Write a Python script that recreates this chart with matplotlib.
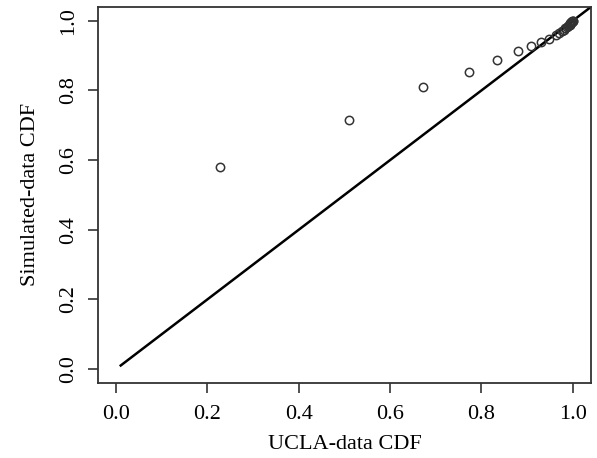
import matplotlib
matplotlib.use("Agg")
import matplotlib.pyplot as plt

# CDF values (UCLA vs simulated)
ucla_cdf = [0.227, 0.510, 0.673, 0.773, 0.834, 0.880, 0.908, 0.930, 0.948,
            0.963, 0.970, 0.976, 0.980, 0.984, 0.987, 0.989, 0.991, 0.993,
            0.994, 0.995, 0.996, 0.997, 0.998, 0.999, 0.9995, 1.000]
sim_cdf = [0.581, 0.715, 0.810, 0.853, 0.888, 0.914, 0.929, 0.939, 0.948,
           0.960, 0.965, 0.970, 0.974, 0.978, 0.981, 0.984, 0.987, 0.989,
           0.991, 0.993, 0.995, 0.996, 0.997, 0.998, 0.999, 1.000]
ref_line = [0.01, 1.05]
ticks = [0.0, 0.2, 0.4, 0.6, 0.8, 1.0]
tick_labels = ["0.0", "0.2", "0.4", "0.6", "0.8", "1.0"]

plt.rcParams["font.family"] = ["Liberation Serif", "DejaVu Serif"]

fig = plt.figure(figsize=(5.97, 4.58), dpi=100)
ax = fig.add_axes([0.164, 0.164, 0.826, 0.821])

ax.plot(ref_line, ref_line, color="black", lw=1.8)
ax.plot(ucla_cdf, sim_cdf, "o", mfc="none", mec="#333333", ms=6, mew=1.1)

ax.set_xlim(-0.04, 1.04)
ax.set_ylim(-0.04, 1.04)
ax.set_xticks(ticks)
ax.set_xticklabels(tick_labels, fontsize=16)
ax.set_yticks(ticks)
ax.set_yticklabels(tick_labels, fontsize=16, rotation=90, va="center")
ax.tick_params(direction="out", length=7, width=1.2, color="#333333")
ax.tick_params(axis="x", pad=9)
ax.tick_params(axis="y", pad=7)

for s in ax.spines.values():
    s.set_linewidth(1.3)
    s.set_color("#333333")

ax.set_xlabel("UCLA-data CDF", fontsize=16, labelpad=8)
ax.set_ylabel("Simulated-data CDF", fontsize=16, labelpad=14)

fig.savefig("out.png", dpi=100)
